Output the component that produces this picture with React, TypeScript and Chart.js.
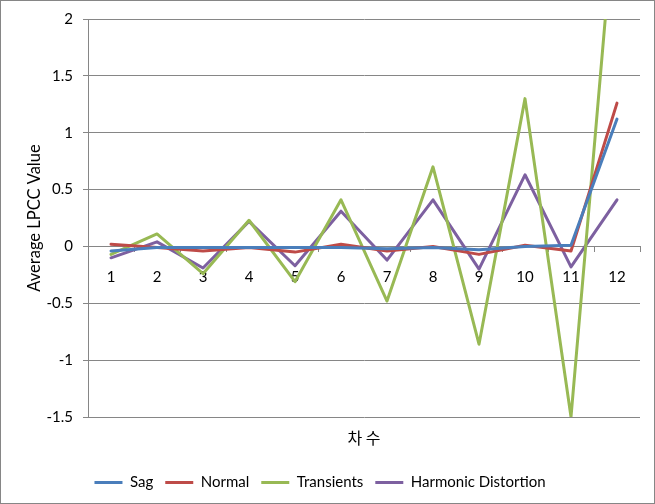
import React, { useEffect, useRef } from "react";
import { Chart, registerables } from "chart.js";

Chart.register(...registerables);

const categories = ["1", "2", "3", "4", "5", "6", "7", "8", "9", "10", "11", "12"];
const sag = [-0.04, -0.01, -0.01, -0.01, -0.01, -0.01, -0.02, -0.01, -0.03, 0.0, 0.01, 1.12];
const normal = [0.02, -0.01, -0.04, -0.01, -0.05, 0.02, -0.04, 0.0, -0.07, 0.01, -0.04, 1.26];
const transients = [-0.07, 0.11, -0.24, 0.23, -0.31, 0.41, -0.48, 0.7, -0.86, 1.3, -1.5, 3.2];
const harmonic = [-0.1, 0.04, -0.19, 0.22, -0.17, 0.31, -0.12, 0.41, -0.2, 0.63, -0.18, 0.41];

const seriesNames = ["Sag", "Normal", "Transients", "Harmonic Distortion"];
const seriesColors = ["#4A7EBB", "#BE4B48", "#98B954", "#7D60A0"];

const FONT = "Lato, 'Liberation Sans', sans-serif";
const GRID = "#868686";

export default function App() {
  const ref = useRef<HTMLCanvasElement | null>(null);

  useEffect(() => {
    const canvas = ref.current;
    if (!canvas) return;
    const frame = {
      id: "frame",
      beforeDraw(chart: any) {
        const c = chart.ctx;
        c.save();
        c.fillStyle = "#ffffff";
        c.fillRect(0, 0, chart.width, chart.height);
        c.restore();
      },
      afterDraw(chart: any) {
        const c = chart.ctx;
        c.save();
        c.strokeStyle = GRID;
        c.lineWidth = 1;
        c.strokeRect(0.5, 0.5, chart.width - 1, chart.height - 1);
        c.restore();
      },
    };
    const values = [sag, normal, transients, harmonic];
    const chart = new Chart(canvas, {
      type: "line",
      data: {
        labels: categories,
        datasets: values.map((v, i) => ({
          label: seriesNames[i],
          data: v,
          borderColor: seriesColors[i],
          backgroundColor: seriesColors[i],
          borderWidth: 3,
          pointRadius: 0,
          pointHoverRadius: 0,
          tension: 0,
          borderJoinStyle: "round",
          borderCapStyle: "round",
          xAxisID: "x",
          yAxisID: "y",
        })),
      },
      options: {
        responsive: false,
        animation: false,
        layout: { padding: { left: 0, right: 15, top: 16, bottom: 4 } },
        plugins: {
          tooltip: { enabled: false },
          legend: {
            position: "bottom",
            labels: {
              usePointStyle: true,
              pointStyle: "line",
              pointStyleWidth: 28,
              padding: 12,
              color: "#000",
              font: { family: FONT, size: 15 },
            },
          },
        },
        scales: {
          x: {
            type: "category",
            position: { y: 0 },
            offset: true,
            grid: {
              offset: true,
              drawOnChartArea: false,
              drawTicks: true,
              tickLength: 5,
              color: GRID,
            },
            border: { display: true, color: GRID },
            ticks: {
              padding: 17,
              color: "#000",
              autoSkip: false,
              maxRotation: 0,
              font: { family: FONT, size: 15 },
            },
            afterFit: (s: any) => {
              s.height = 0;
            },
          },
          x2: {
            type: "category",
            position: "bottom",
            offset: true,
            grid: { display: false },
            border: { display: false },
            ticks: { display: false },
            title: {
              display: true,
              text: "차 수",
              color: "#000",
              font: { family: "'Noto Sans CJK KR', " + FONT, size: 16 },
              padding: { top: 0, bottom: 15 },
            },
            afterFit: (s: any) => {
              s.height = 46;
            },
          },
          y: {
            type: "linear",
            min: -1.5,
            max: 2,
            ticks: {
              stepSize: 0.5,
              padding: 10,
              color: "#000",
              font: { family: FONT, size: 15 },
              callback: (v: any) => String(Number(v)),
            },
            grid: { color: GRID, tickLength: 5, drawTicks: true },
            border: { display: true, color: GRID },
            title: {
              display: true,
              text: "Average LPCC Value",
              color: "#000",
              font: { family: FONT, size: 16.5 },
              padding: { top: 25, bottom: 0 },
            },
            afterFit: (s: any) => {
              s.width = 88;
            },
          },
        },
      },
      plugins: [frame],
    } as any);
    return () => chart.destroy();
  }, []);

  return (
    <div style={{ position: "absolute", left: 0, top: 0, width: 655, height: 504 }}>
      <canvas ref={ref} width={655} height={504} style={{ width: 655, height: 504, display: "block" }} />
    </div>
  );
}
